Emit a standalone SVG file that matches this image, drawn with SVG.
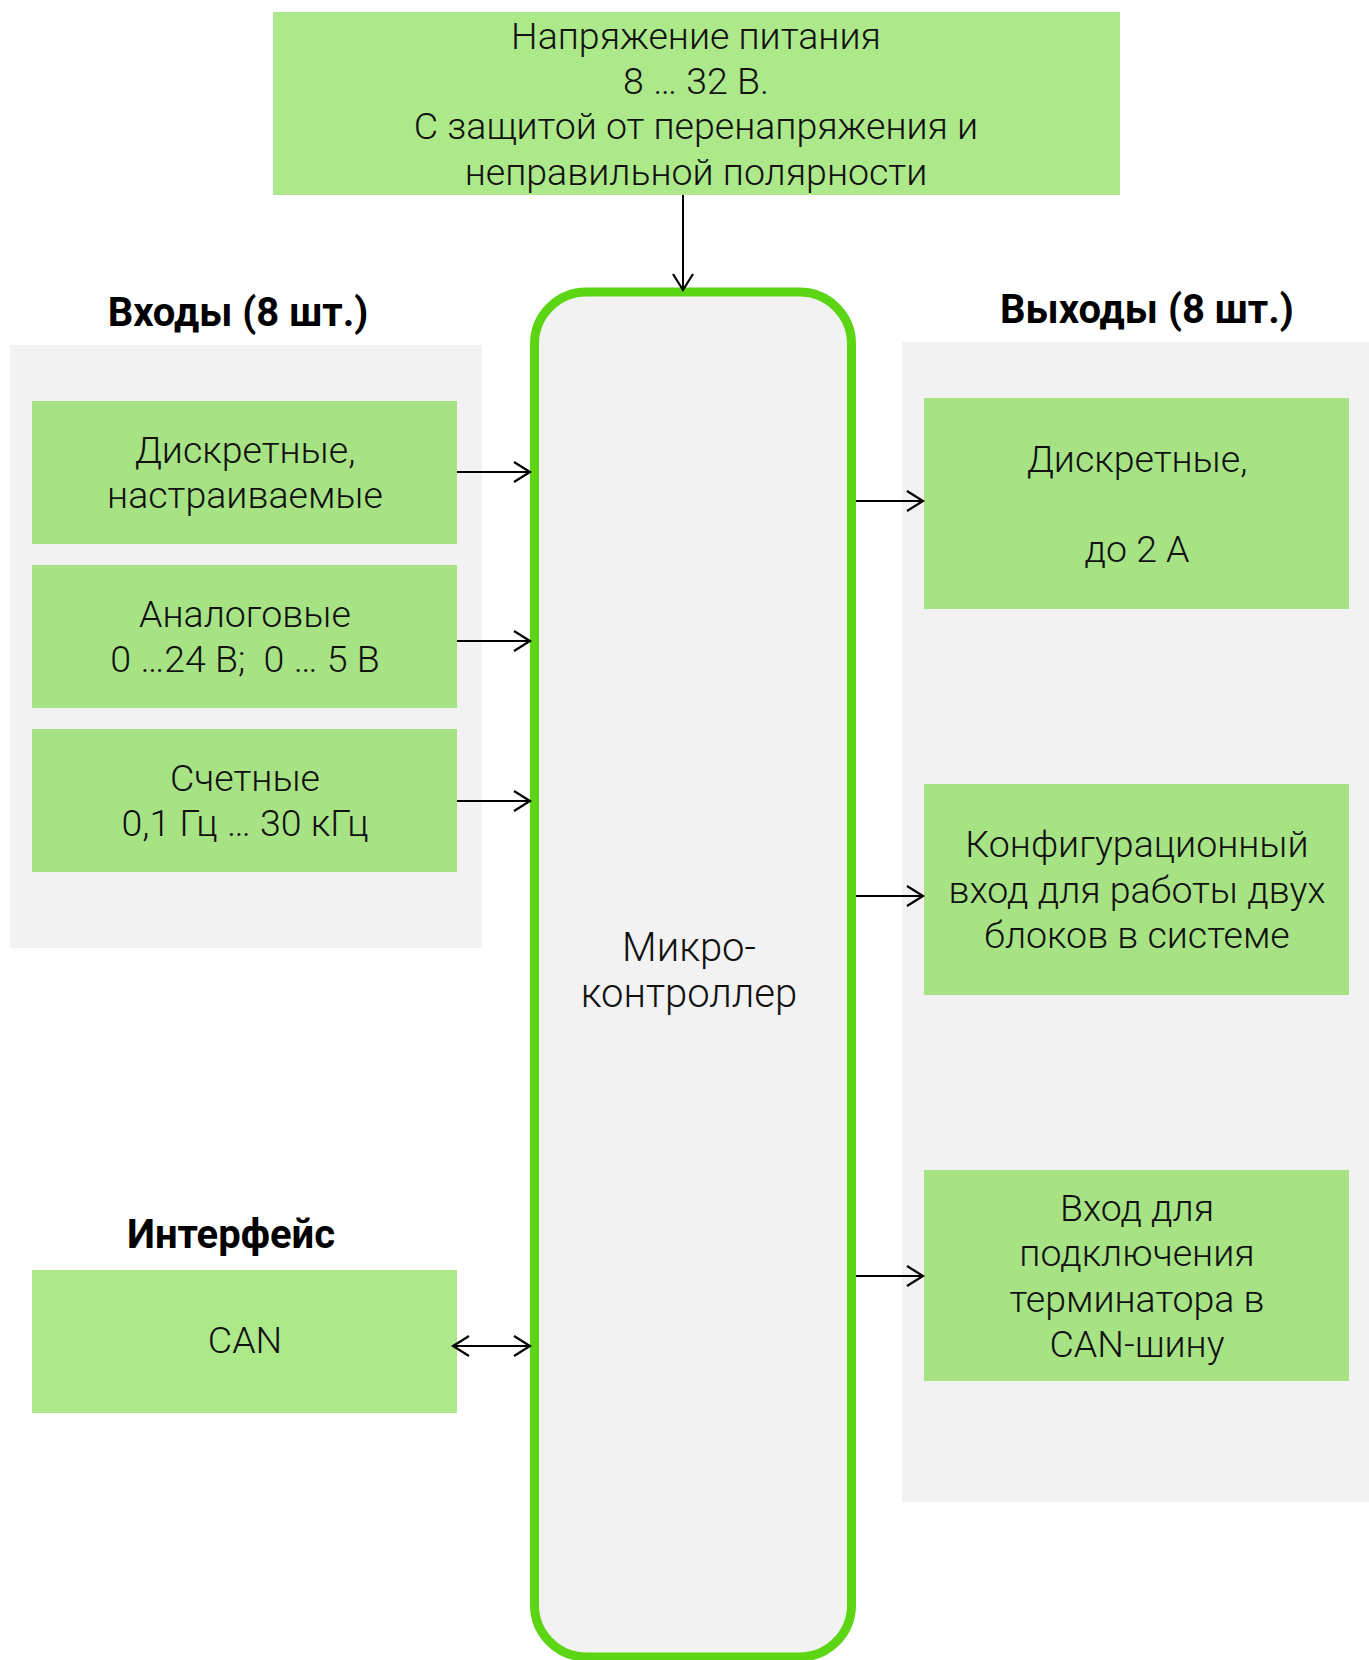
<svg xmlns="http://www.w3.org/2000/svg" width="1369" height="1660" viewBox="0 0 1369 1660">
<style>
.panel{fill:#f2f2f2}
.box{fill:#a7e384}
.box2{fill:#ade98a}
.t{font-family:Roboto,"Liberation Sans",sans-serif;font-weight:300;font-size:37.5px;fill:#111;text-anchor:middle;white-space:pre}
.m{font-size:40px}
.h{font-family:Roboto,"Liberation Sans",sans-serif;font-weight:700;font-size:40px;fill:#000;text-anchor:middle}
.c{fill:none;stroke:#000;stroke-width:2}
</style>
<defs>
<marker id="ah" markerUnits="userSpaceOnUse" markerWidth="20" markerHeight="24" refX="17" refY="11" orient="auto-start-reverse" viewBox="0 0 20 24">
<path d="M1,1 L17,11 L1,21" fill="none" stroke="#000" stroke-width="2.2"/>
</marker>
</defs>
<rect width="1369" height="1660" fill="#fff"/>

<g id="panel-inputs">
<rect class="panel" x="10" y="345" width="472" height="603"/>
<text class="h" x="238" y="326">Входы (8 шт.)</text>
</g>
<g id="panel-outputs">
<rect class="panel" x="902" y="342" width="467" height="1160"/>
<text class="h" x="1147" y="323">Выходы (8 шт.)</text>
</g>

<g id="power">
<rect class="box2" x="273" y="12" width="847" height="183"/>
<text class="t" x="696" y="49">Напряжение питания</text>
<text class="t" x="696" y="94">8 … 32 В.</text>
<text class="t" x="696" y="139">С защитой от перенапряжения и</text>
<text class="t" x="696" y="185">неправильной полярности</text>
</g>

<g id="mcu">
<rect x="534.5" y="292" width="317" height="1365" rx="52" ry="52" fill="#f2f2f2" stroke="#5cd614" stroke-width="9"/>
<text class="t m" x="689" y="961">Микро-</text>
<text class="t m" x="689" y="1007">контроллер</text>
</g>

<g id="in-discrete">
<rect class="box" x="32" y="401" width="425" height="143"/>
<text class="t" x="245" y="463">Дискретные,</text>
<text class="t" x="245" y="508">настраиваемые</text>
</g>
<g id="in-analog">
<rect class="box" x="32" y="565" width="425" height="143"/>
<text class="t" x="245" y="627">Аналоговые</text>
<text class="t" x="245" y="672">0 …24 В;  0 … 5 В</text>
</g>
<g id="in-counter">
<rect class="box" x="32" y="729" width="425" height="143"/>
<text class="t" x="245" y="791">Счетные</text>
<text class="t" x="245" y="836">0,1 Гц … 30 кГц</text>
</g>

<g id="interface">
<text class="h" x="231" y="1248">Интерфейс</text>
<rect class="box2" x="32" y="1270" width="425" height="143"/>
<text class="t" x="245" y="1353">CAN</text>
</g>

<g id="out-discrete">
<rect class="box" x="924" y="398" width="425" height="211"/>
<text class="t" x="1137" y="472">Дискретные,</text>
<text class="t" x="1137" y="562">до 2 А</text>
</g>
<g id="out-config">
<rect class="box" x="924" y="784" width="425" height="211"/>
<text class="t" x="1137" y="857">Конфигурационный</text>
<text class="t" x="1137" y="903">вход для работы двух</text>
<text class="t" x="1137" y="948">блоков в системе</text>
</g>
<g id="out-term">
<rect class="box" x="924" y="1170" width="425" height="211"/>
<text class="t" x="1137" y="1221">Вход для</text>
<text class="t" x="1137" y="1266">подключения</text>
<text class="t" x="1137" y="1312">терминатора в</text>
<text class="t" x="1137" y="1357">CAN-шину</text>
</g>

<g id="connectors">
<line class="c" x1="683" y1="195" x2="683" y2="290" marker-end="url(#ah)"/>
<line class="c" x1="457" y1="472" x2="530" y2="472" marker-end="url(#ah)"/>
<line class="c" x1="457" y1="641" x2="530" y2="641" marker-end="url(#ah)"/>
<line class="c" x1="457" y1="801" x2="530" y2="801" marker-end="url(#ah)"/>
<line class="c" x1="453" y1="1346" x2="530" y2="1346" marker-start="url(#ah)" marker-end="url(#ah)"/>
<line class="c" x1="856" y1="501" x2="923" y2="501" marker-end="url(#ah)"/>
<line class="c" x1="856" y1="896" x2="923" y2="896" marker-end="url(#ah)"/>
<line class="c" x1="856" y1="1276" x2="923" y2="1276" marker-end="url(#ah)"/>
</g>
</svg>
